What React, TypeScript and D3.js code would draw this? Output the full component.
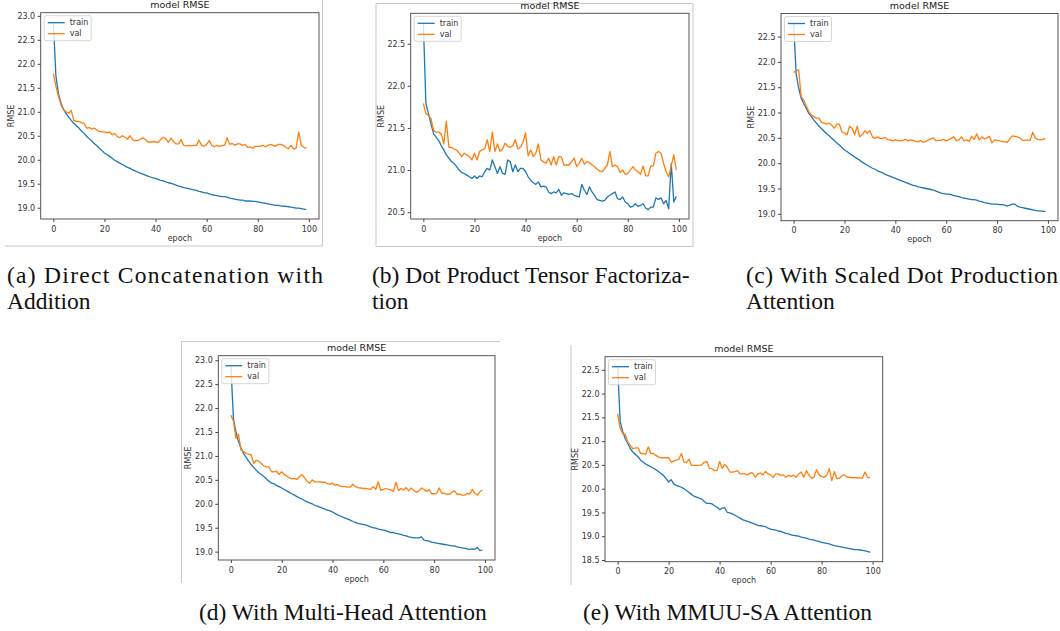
import React, { useEffect, useRef } from 'react';
import * as d3 from 'd3';

// epochs 0..99 on the x axis
const epochs = d3.range(100);
const xTicks = [0, 20, 40, 60, 80, 100];

// (a) Direct Concatenation with Addition
const trainA = [
  22.87, 21.75, 21.38, 21.18, 21.05, 20.96, 20.89, 20.82, 20.76, 20.71,
  20.66, 20.60, 20.55, 20.49, 20.44, 20.39, 20.34, 20.29, 20.24, 20.19,
  20.14, 20.11, 20.07, 20.03, 19.99, 19.96, 19.93, 19.90, 19.87, 19.84,
  19.82, 19.79, 19.77, 19.74, 19.72, 19.70, 19.68, 19.66, 19.64, 19.62,
  19.61, 19.59, 19.57, 19.56, 19.54, 19.52, 19.51, 19.49, 19.47, 19.45,
  19.44, 19.42, 19.41, 19.40, 19.38, 19.37, 19.36, 19.34, 19.33, 19.31,
  19.31, 19.29, 19.27, 19.26, 19.25, 19.24, 19.23, 19.23, 19.22, 19.20,
  19.19, 19.18, 19.17, 19.16, 19.16, 19.14, 19.14, 19.14, 19.13, 19.13,
  19.12, 19.11, 19.10, 19.09, 19.08, 19.07, 19.06, 19.05, 19.05, 19.04,
  19.03, 19.03, 19.02, 19.01, 19.00, 18.99, 18.99, 18.98, 18.97, 18.96,
];
const valA = [
  21.80, 21.53, 21.32, 21.14, 21.04, 21.00, 20.97, 21.03, 20.82, 20.80,
  20.80, 20.77, 20.76, 20.66, 20.67, 20.64, 20.66, 20.62, 20.59, 20.58,
  20.58, 20.56, 20.58, 20.52, 20.55, 20.48, 20.46, 20.50, 20.47, 20.43,
  20.50, 20.42, 20.40, 20.40, 20.42, 20.46, 20.42, 20.37, 20.37, 20.38,
  20.37, 20.36, 20.42, 20.47, 20.44, 20.36, 20.45, 20.38, 20.33, 20.33,
  20.42, 20.30, 20.29, 20.30, 20.29, 20.30, 20.30, 20.41, 20.30, 20.28,
  20.32, 20.40, 20.30, 20.27, 20.30, 20.28, 20.30, 20.30, 20.46, 20.32,
  20.34, 20.30, 20.33, 20.33, 20.30, 20.32, 20.26, 20.27, 20.24, 20.28,
  20.28, 20.28, 20.30, 20.27, 20.30, 20.32, 20.30, 20.28, 20.32, 20.32,
  20.30, 20.25, 20.23, 20.30, 20.22, 20.24, 20.58, 20.30, 20.26, 20.24,
];

// (b) Dot Product Tensor Factorization
const trainB = [
  22.75, 21.79, 21.67, 21.55, 21.43, 21.39, 21.35, 21.29, 21.24, 21.18,
  21.14, 21.10, 21.08, 21.04, 21.00, 20.97, 20.96, 20.94, 20.92, 20.90,
  20.93, 20.90, 20.93, 20.92, 20.98, 21.02, 21.00, 21.12, 21.04, 20.96,
  21.04, 20.96, 20.95, 21.12, 21.10, 20.98, 21.06, 20.98, 21.02, 21.02,
  20.98, 20.92, 20.88, 20.85, 20.83, 20.86, 20.80, 20.81, 20.80, 20.74,
  20.72, 20.74, 20.73, 20.77, 20.70, 20.73, 20.72, 20.71, 20.72, 20.70,
  20.69, 20.68, 20.83, 20.76, 20.71, 20.80, 20.74, 20.70, 20.65, 20.64,
  20.63, 20.64, 20.68, 20.70, 20.72, 20.74, 20.66, 20.65, 20.68, 20.62,
  20.60, 20.56, 20.57, 20.60, 20.57, 20.58, 20.60, 20.55, 20.53, 20.56,
  20.56, 20.67, 20.65, 20.67, 20.60, 20.64, 20.54, 21.08, 20.62, 20.69,
];
const valB = [
  21.79, 21.67, 21.65, 21.61, 21.47, 21.45, 21.45, 21.43, 21.31, 21.58,
  21.27, 21.27, 21.25, 21.24, 21.20, 21.16, 21.20, 21.18, 21.16, 21.12,
  21.20, 21.12, 21.22, 21.24, 21.25, 21.36, 21.22, 21.45, 21.22, 21.31,
  21.22, 21.25, 21.32, 21.28, 21.27, 21.29, 21.36, 21.25, 21.27, 21.33,
  21.44, 21.17, 21.24, 21.16, 21.20, 21.31, 21.12, 21.10, 21.08, 21.14,
  21.06, 21.16, 21.06, 21.16, 21.16, 21.06, 21.06, 21.06, 21.10, 21.14,
  21.04, 21.08, 21.14, 21.07, 21.10, 21.09, 21.06, 21.04, 21.01, 20.99,
  20.98, 21.02, 21.06, 21.22, 21.04, 21.06, 21.04, 20.97, 21.00, 20.95,
  20.96, 21.00, 21.04, 21.00, 20.98, 20.95, 21.05, 20.93, 20.93, 21.05,
  21.05, 21.20, 21.22, 21.20, 21.08, 20.98, 20.92, 21.05, 21.18, 21.00,
];

// (c) With Scaled Dot Production Attention
const trainC = [
  22.77, 21.77, 21.48, 21.28, 21.18, 21.08, 20.98, 20.92, 20.85, 20.79,
  20.73, 20.68, 20.63, 20.58, 20.54, 20.49, 20.45, 20.40, 20.36, 20.31,
  20.26, 20.23, 20.19, 20.16, 20.12, 20.09, 20.06, 20.02, 19.99, 19.96,
  19.93, 19.90, 19.88, 19.85, 19.83, 19.81, 19.78, 19.76, 19.74, 19.72,
  19.70, 19.68, 19.66, 19.64, 19.62, 19.60, 19.58, 19.56, 19.55, 19.53,
  19.52, 19.51, 19.50, 19.49, 19.48, 19.47, 19.45, 19.43, 19.41, 19.40,
  19.39, 19.39, 19.38, 19.36, 19.35, 19.34, 19.32, 19.31, 19.30, 19.29,
  19.28, 19.28, 19.27, 19.25, 19.24, 19.22, 19.21, 19.20, 19.19, 19.19,
  19.19, 19.18, 19.18, 19.17, 19.15, 19.17, 19.19, 19.19, 19.15, 19.13,
  19.12, 19.11, 19.10, 19.09, 19.08, 19.07, 19.06, 19.06, 19.05, 19.05,
];
const valC = [
  21.79, 21.83, 21.84, 21.31, 21.25, 21.13, 21.02, 20.95, 20.92, 20.89,
  20.89, 20.80, 20.79, 20.77, 20.79, 20.75, 20.69, 20.77, 20.77, 20.62,
  20.59, 20.56, 20.73, 20.69, 20.56, 20.73, 20.52, 20.56, 20.64, 20.59,
  20.64, 20.52, 20.49, 20.52, 20.49, 20.49, 20.51, 20.46, 20.46, 20.44,
  20.46, 20.45, 20.44, 20.45, 20.47, 20.44, 20.46, 20.45, 20.43, 20.42,
  20.45, 20.41, 20.43, 20.46, 20.48, 20.50, 20.44, 20.45, 20.45, 20.47,
  20.44, 20.46, 20.49, 20.52, 20.44, 20.46, 20.52, 20.44, 20.46, 20.43,
  20.53, 20.47, 20.58, 20.46, 20.52, 20.48, 20.50, 20.53, 20.40, 20.46,
  20.45, 20.44, 20.43, 20.42, 20.41, 20.48, 20.54, 20.53, 20.52, 20.50,
  20.45, 20.45, 20.46, 20.45, 20.61, 20.50, 20.47, 20.46, 20.47, 20.49,
];

// (d) With Multi-Head Attention
const trainD = [
  22.90, 21.78, 21.50, 21.30, 21.16, 21.05, 20.97, 20.89, 20.82, 20.76,
  20.70, 20.65, 20.61, 20.57, 20.52, 20.47, 20.43, 20.42, 20.38, 20.36,
  20.33, 20.30, 20.27, 20.24, 20.21, 20.18, 20.15, 20.12, 20.10, 20.07,
  20.04, 20.02, 20.00, 19.97, 19.95, 19.93, 19.91, 19.89, 19.87, 19.85,
  19.83, 19.80, 19.77, 19.75, 19.72, 19.70, 19.68, 19.66, 19.63, 19.61,
  19.59, 19.58, 19.57, 19.56, 19.54, 19.52, 19.50, 19.49, 19.47, 19.46,
  19.45, 19.44, 19.42, 19.40, 19.40, 19.38, 19.37, 19.36, 19.34, 19.33,
  19.31, 19.30, 19.29, 19.29, 19.29, 19.31, 19.24, 19.23, 19.22, 19.20,
  19.19, 19.18, 19.17, 19.16, 19.15, 19.14, 19.13, 19.12, 19.12, 19.10,
  19.09, 19.08, 19.07, 19.06, 19.05, 19.06, 19.05, 19.09, 19.02, 19.03,
];
const valD = [
  21.85, 21.73, 21.37, 21.45, 21.12, 21.09, 21.05, 21.04, 21.02, 20.84,
  20.91, 20.89, 20.84, 20.79, 20.77, 20.77, 20.67, 20.67, 20.68, 20.61,
  20.67, 20.61, 20.58, 20.54, 20.52, 20.53, 20.51, 20.57, 20.61, 20.54,
  20.47, 20.43, 20.50, 20.46, 20.46, 20.46, 20.45, 20.45, 20.42, 20.41,
  20.43, 20.39, 20.40, 20.37, 20.36, 20.36, 20.35, 20.35, 20.41, 20.36,
  20.34, 20.33, 20.32, 20.32, 20.31, 20.30, 20.36, 20.30, 20.46, 20.28,
  20.30, 20.32, 20.30, 20.29, 20.26, 20.45, 20.28, 20.32, 20.29, 20.34,
  20.27, 20.33, 20.28, 20.24, 20.27, 20.33, 20.30, 20.26, 20.30, 20.21,
  20.21, 20.22, 20.33, 20.22, 20.22, 20.20, 20.20, 20.24, 20.27, 20.20,
  20.20, 20.18, 20.18, 20.22, 20.20, 20.30, 20.22, 20.18, 20.25, 20.29,
];

// (e) With MMUU-SA Attention
const trainE = [
  22.58, 21.41, 21.20, 21.05, 20.95, 20.84, 20.77, 20.72, 20.67, 20.60,
  20.56, 20.52, 20.49, 20.46, 20.43, 20.40, 20.36, 20.32, 20.28, 20.21,
  20.14, 20.19, 20.10, 20.07, 20.05, 20.03, 20.00, 19.96, 19.92, 19.88,
  19.84, 19.82, 19.80, 19.78, 19.73, 19.69, 19.69, 19.68, 19.64, 19.61,
  19.56, 19.59, 19.60, 19.50, 19.49, 19.47, 19.44, 19.41, 19.38, 19.35,
  19.33, 19.31, 19.29, 19.27, 19.25, 19.23, 19.22, 19.21, 19.20, 19.17,
  19.15, 19.14, 19.13, 19.11, 19.10, 19.08, 19.06, 19.05, 19.03, 19.02,
  19.01, 19.00, 18.98, 18.97, 18.96, 18.94, 18.93, 18.92, 18.90, 18.89,
  18.87, 18.86, 18.85, 18.84, 18.82, 18.80, 18.79, 18.78, 18.77, 18.76,
  18.75, 18.74, 18.73, 18.72, 18.72, 18.71, 18.70, 18.69, 18.68, 18.66,
];
const valE = [
  21.58, 21.27, 21.16, 21.14, 20.98, 20.91, 20.84, 20.86, 20.86, 20.74,
  20.74, 20.72, 20.88, 20.74, 20.74, 20.70, 20.67, 20.65, 20.65, 20.65,
  20.65, 20.56, 20.58, 20.60, 20.62, 20.74, 20.56, 20.55, 20.62, 20.49,
  20.49, 20.49, 20.49, 20.50, 20.56, 20.57, 20.43, 20.42, 20.38, 20.38,
  20.57, 20.43, 20.51, 20.45, 20.35, 20.35, 20.36, 20.38, 20.31, 20.31,
  20.31, 20.29, 20.33, 20.33, 20.24, 20.31, 20.33, 20.29, 20.36, 20.31,
  20.29, 20.24, 20.31, 20.31, 20.28, 20.29, 20.24, 20.28, 20.26, 20.28,
  20.24, 20.31, 20.35, 20.24, 20.38, 20.29, 20.22, 20.24, 20.40, 20.29,
  20.26, 20.24, 20.28, 20.42, 20.17, 20.36, 20.21, 20.22, 20.28, 20.29,
  20.24, 20.24, 20.23, 20.23, 20.23, 20.22, 20.22, 20.35, 20.24, 20.23,
];

const captionLines = [
  ['(a) Direct Concatenation with', 'Addition'],
  ['(b) Dot Product Tensor Factoriza-', 'tion'],
  ['(c) With Scaled Dot Production', 'Attention'],
  ['(d) With Multi-Head Attention'],
  ['(e) With MMUU-SA Attention'],
];

const BLUE = '#1f77b4';
const ORANGE = '#ff7f0e';
const SANS = 'DejaVu Sans, sans-serif';
const SERIF = 'Liberation Serif, Times New Roman, serif';

// axes boxes of the five screenshots
const panels = [
  { train: trainA, val: valA, left: 40.7, top: 12.7, right: 319, bottom: 219 },
  { train: trainB, val: valB, left: 410.7, top: 13.3, right: 689, bottom: 219 },
  { train: trainC, val: valC, left: 781, top: 13.5, right: 1058, bottom: 220.7 },
  { train: trainD, val: valD, left: 218.3, top: 355.7, right: 495, bottom: 560 },
  { train: trainE, val: valE, left: 605, top: 356.7, right: 882.7, bottom: 561.7 },
];

// light screenshot edges
const edges = [
  [5, 246, 322.5, 246], [322.5, 0, 322.5, 246],
  [376, 3.5, 693, 3.5], [376, 3.5, 376, 246.5], [693, 3.5, 693, 246.5], [376, 246.5, 693, 246.5],
  [181.5, 341.5, 500, 341.5], [181.5, 341.5, 181.5, 583],
  [571, 345, 571, 585],
];

// caption placement: x, baseline, optional justified width
const captionPos = [
  { x: 7, y: 283, just: 316 },
  { x: 372, y: 283, just: 0 },
  { x: 746, y: 283, just: 312 },
  { x: 199, y: 620, just: 0 },
  { x: 583, y: 620, just: 0 },
];

export default function App() {
  const ref = useRef<SVGSVGElement>(null);

  useEffect(() => {
    const svg = d3.select(ref.current);
    svg.selectAll('*').remove();
    svg.append('rect').attr('width', 1060).attr('height', 631).attr('fill', '#fff');

    svg.selectAll('line.edge')
      .data(edges)
      .enter()
      .append('line')
        .attr('class', 'edge')
        .attr('x1', d => d[0]).attr('y1', d => d[1])
        .attr('x2', d => d[2]).attr('y2', d => d[3])
        .attr('stroke', '#c9c9c9')
        .attr('stroke-width', 1);

    panels.forEach(p => {
      const all = p.train.concat(p.val);
      const lo = d3.min(all) as number;
      const hi = d3.max(all) as number;
      const pad = (hi - lo) * 0.05;
      const x = d3.scaleLinear().domain([-4.95, 103.95]).range([p.left, p.right]);
      const y = d3.scaleLinear().domain([lo - pad, hi + pad]).range([p.bottom, p.top]);
      const g = svg.append('g');

      const line = d3.line<number>()
        .x((d, i) => x(epochs[i]))
        .y(d => y(d));
      g.append('path').datum(p.train)
        .attr('d', line).attr('fill', 'none')
        .attr('stroke', BLUE).attr('stroke-width', 1.3).attr('stroke-linejoin', 'round');
      g.append('path').datum(p.val)
        .attr('d', line).attr('fill', 'none')
        .attr('stroke', ORANGE).attr('stroke-width', 1.3).attr('stroke-linejoin', 'round');

      const yTicks = d3.range(Math.ceil((lo - pad) * 2) / 2, hi + pad, 0.5);
      const yAxis = d3.axisLeft(y).tickValues(yTicks).tickFormat(d3.format('.1f'))
        .tickSize(3).tickPadding(2.5).tickSizeOuter(0);
      const xAxis = d3.axisBottom(x).tickValues(xTicks).tickFormat(d3.format('d'))
        .tickSize(3).tickPadding(4).tickSizeOuter(0);

      g.append('g')
        .attr('transform', `translate(${p.left},0)`)
        .call(yAxis)
        .call(s => s.select('.domain').remove())
        .attr('color', '#444')
        .attr('font-family', SANS).attr('font-size', 8)
        .selectAll('text').attr('fill', '#333');
      g.append('g')
        .attr('transform', `translate(0,${p.bottom})`)
        .call(xAxis)
        .call(s => s.select('.domain').remove())
        .attr('color', '#444')
        .attr('font-family', SANS).attr('font-size', 8)
        .selectAll('text').attr('fill', '#333');

      g.append('rect')
        .attr('x', p.left).attr('y', p.top)
        .attr('width', p.right - p.left).attr('height', p.bottom - p.top)
        .attr('fill', 'none').attr('stroke', '#444').attr('stroke-width', 0.9);

      const cx = (p.left + p.right) / 2;
      g.append('text')
        .attr('x', cx).attr('y', p.top - 4.5)
        .attr('text-anchor', 'middle')
        .attr('font-family', SANS).attr('font-size', 9.5).attr('fill', '#222')
        .text('model RMSE');
      g.append('text')
        .attr('x', cx).attr('y', p.bottom + 21.5)
        .attr('text-anchor', 'middle')
        .attr('font-family', SANS).attr('font-size', 8).attr('fill', '#333')
        .text('epoch');
      g.append('text')
        .attr('transform', `translate(${p.left - 27},${(p.top + p.bottom) / 2}) rotate(-90)`)
        .attr('text-anchor', 'middle')
        .attr('font-family', SANS).attr('font-size', 8).attr('fill', '#333')
        .text('RMSE');

      // legend, upper left
      const lg = g.append('g').attr('transform', `translate(${p.left + 3.5},${p.top + 3})`);
      lg.append('rect')
        .attr('width', 47).attr('height', 25).attr('rx', 2)
        .attr('fill', '#fff').attr('fill-opacity', 0.8)
        .attr('stroke', '#cccccc').attr('stroke-width', 0.8);
      [['train', BLUE], ['val', ORANGE]].forEach(([name, col], i) => {
        lg.append('line')
          .attr('x1', 3.5).attr('x2', 20.5)
          .attr('y1', 7 + i * 11).attr('y2', 7 + i * 11)
          .attr('stroke', col).attr('stroke-width', 1.3);
        lg.append('text')
          .attr('x', 25.5).attr('y', 7 + i * 11).attr('dy', '0.35em')
          .attr('font-family', SANS).attr('font-size', 8).attr('fill', '#333')
          .text(name);
      });
    });

    captionLines.forEach((lines, i) => {
      const c = captionPos[i];
      lines.forEach((t, j) => {
        const txt = svg.append('text')
          .attr('x', c.x).attr('y', c.y + j * 26)
          .attr('font-family', SERIF).attr('font-size', 23.5).attr('fill', '#111')
          .text(t);
        if (j === 0 && c.just) {
          txt.attr('textLength', c.just).attr('lengthAdjust', 'spacing');
        }
      });
    });
  }, []);

  return (
    <div style={{ position: 'absolute', left: 0, top: 0 }}>
      <svg ref={ref} width={1060} height={631}></svg>
    </div>
  );
}
